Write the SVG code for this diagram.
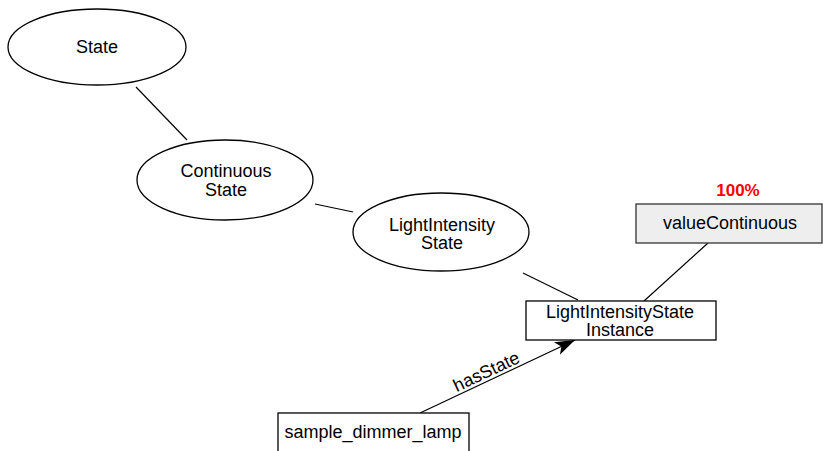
<svg xmlns="http://www.w3.org/2000/svg" width="823" height="451" viewBox="0 0 823 451">
<style>
.n{fill:#fff;stroke:#000;stroke-width:1.3}
.g{fill:#eee;stroke:#333;stroke-width:1.3}
.t{font-family:"Liberation Sans",Arial,sans-serif;font-size:18px;text-anchor:middle;fill:#000}
.r{font-family:"Liberation Sans",Arial,sans-serif;font-size:17px;font-weight:bold;text-anchor:middle;fill:#f00}
.e{stroke:#000;stroke-width:1.2;fill:none}
</style>
<defs>
<marker id="ah" markerWidth="22" markerHeight="16" refX="20" refY="8" orient="auto" markerUnits="userSpaceOnUse">
<path d="M0,1 L20,8 L0,15 L5,8 Z" fill="#000"/>
</marker>
</defs>
<g id="connectors">
<line class="e" x1="136" y1="87" x2="187" y2="140"/>
<line class="e" x1="315" y1="204" x2="353" y2="212"/>
<line class="e" x1="523" y1="273" x2="578" y2="300"/>
<line class="e" x1="708" y1="243" x2="644" y2="301"/>
<line class="e" x1="420" y1="413" x2="575" y2="340" marker-end="url(#ah)"/>
<text class="t" transform="translate(489,377) rotate(-25.2)">hasState</text>
</g>
<g id="state">
<ellipse class="n" cx="97" cy="47" rx="89" ry="38"/>
<text class="t" x="97" y="53">State</text>
</g>
<g id="continuousState">
<ellipse class="n" cx="225" cy="180" rx="88" ry="40"/>
<text class="t" x="226" y="177">Continuous</text>
<text class="t" x="226" y="195.5">State</text>
</g>
<g id="lightIntensityState">
<ellipse class="n" cx="441" cy="232" rx="88" ry="39"/>
<text class="t" x="442" y="230.5">LightIntensity</text>
<text class="t" x="442" y="249">State</text>
</g>
<g id="instance">
<rect class="n" x="526" y="301" width="190" height="39"/>
<text class="t" x="620" y="317.5">LightIntensityState</text>
<text class="t" x="620" y="336">Instance</text>
</g>
<g id="valueContinuous">
<rect class="g" x="636" y="204" width="186" height="39"/>
<text class="t" x="730" y="229">valueContinuous</text>
<text class="r" x="738" y="196">100%</text>
</g>
<g id="lamp">
<rect class="n" x="278" y="413" width="191" height="45"/>
<text class="t" x="373" y="438">sample_dimmer_lamp</text>
</g>
</svg>
